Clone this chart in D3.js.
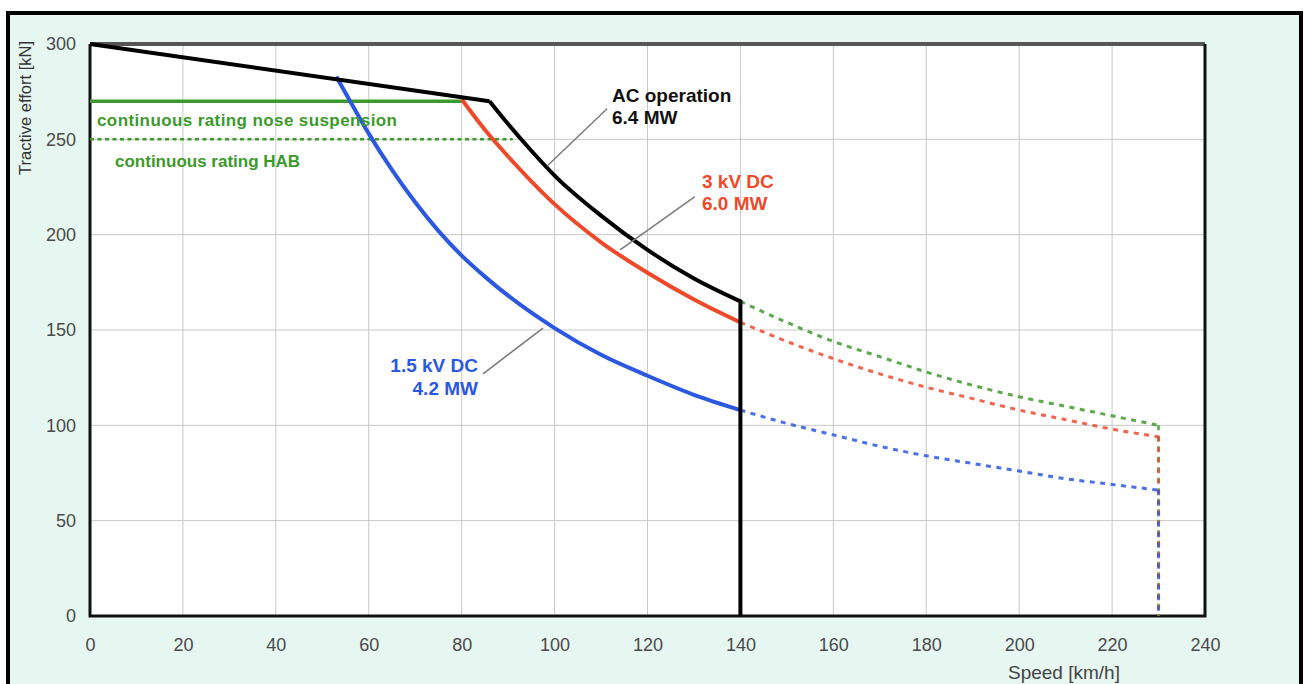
<!DOCTYPE html>
<html>
<head>
<meta charset="utf-8">
<script src="https://cdn.jsdelivr.net/npm/d3@7"></script>
<style>
  body { margin: 0; background: #ffffff; }
  svg { display: block; font-family: "Liberation Sans", Arial, sans-serif; }
</style>
</head>
<body>
<svg width="1305" height="684"></svg>
<script>
// axis ticks
const speedTicks = [0, 20, 40, 60, 80, 100, 120, 140, 160, 180, 200, 220, 240];
const effortTicks = [0, 50, 100, 150, 200, 250, 300];

// AC operation 6.4 MW (black)
const acStraight = [[0, 300], [86, 270]];
const acCurve = [[86, 270], [90, 258], [95, 244], [100, 231], [110, 210], [120, 192], [130, 177], [140, 165]];
const acDrop = [[140, 165], [140, 0]];
const acExtension = [[140, 165], [150, 154], [160, 144], [170, 136], [180, 128], [190, 121], [200, 115], [210, 110], [220, 105], [230, 100]];

// 3 kV DC 6.0 MW (red)
const dc3Curve = [[80, 271], [85, 255], [90, 241], [95, 228], [100, 216], [110, 196], [120, 180], [130, 166], [140, 154]];
const dc3Extension = [[140, 154], [150, 144], [160, 135], [170, 127], [180, 120], [190, 114], [200, 108], [210, 103], [220, 98], [230, 94]];

// 1.5 kV DC 4.2 MW (blue)
const dc15Curve = [[53, 283], [56, 270], [60, 253], [65, 234], [70, 217], [75, 202], [80, 189], [85, 178], [90, 168], [100, 151], [110, 137], [120, 126], [130, 116], [140, 108]];
const dc15Extension = [[140, 108], [150, 101], [160, 95], [170, 89], [180, 84], [190, 80], [200, 76], [210, 72], [220, 69], [230, 66]];

// continuous ratings (green)
const noseSuspension = [[0, 270], [80, 270]];
const hab = [[0, 250], [91, 250]];

// leader lines for the curve labels, [speed, effort] pairs
const leaders = [
  [[98.4, 236], [111.3, 266]],
  [[114.1, 192], [130.2, 220]],
  [[97.5, 151], [84.6, 127]]
];

const svg = d3.select("svg");

// outer frame with mint background
svg.append("rect")
  .attr("x", 8).attr("y", 13)
  .attr("width", 1293).attr("height", 680)
  .attr("fill", "#e6f6f1")
  .attr("stroke", "#000")
  .attr("stroke-width", 4);

let x = d3.scaleLinear().domain([0, 240]).range([90, 1205]);
let y = d3.scaleLinear().domain([0, 300]).range([616, 44]);

// plot background
svg.append("rect")
  .attr("x", x(0)).attr("y", y(300))
  .attr("width", x(240) - x(0)).attr("height", y(0) - y(300))
  .attr("fill", "#fff");

// grid
let grid = svg.append("g").attr("id", "grid");
grid.selectAll("line.v")
  .data(speedTicks.slice(1, -1))
  .enter().append("line")
  .attr("class", "v")
  .attr("x1", d => x(d)).attr("x2", d => x(d))
  .attr("y1", y(300)).attr("y2", y(0))
  .attr("stroke", "#c8c8c8").attr("stroke-width", 1);
grid.selectAll("line.h")
  .data(effortTicks.slice(1, -1))
  .enter().append("line")
  .attr("class", "h")
  .attr("x1", x(0)).attr("x2", x(240))
  .attr("y1", d => y(d)).attr("y2", d => y(d))
  .attr("stroke", "#c8c8c8").attr("stroke-width", 1);

// axes (labels only, frame drawn separately)
let xAxis = d3.axisBottom(x).tickValues(speedTicks).tickSize(0).tickPadding(0);
let yAxis = d3.axisLeft(y).tickValues(effortTicks).tickSize(0).tickPadding(0);

let xGroup = svg.append("g").attr("id", "x-axis")
  .attr("transform", "translate(0," + 651 + ")")
  .call(xAxis);
xGroup.select(".domain").remove();
xGroup.selectAll("text")
  .attr("dy", 0)
  .attr("y", 0)
  .style("font-size", "18px")
  .style("fill", "#4a4a4a")
  .style("font-family", "Liberation Sans, Arial, sans-serif");

let yGroup = svg.append("g").attr("id", "y-axis")
  .attr("transform", "translate(" + 76 + ",0)")
  .call(yAxis);
yGroup.select(".domain").remove();
yGroup.selectAll("text")
  .attr("x", 0)
  .style("font-size", "18px")
  .style("fill", "#4a4a4a")
  .style("font-family", "Liberation Sans, Arial, sans-serif");

// plot frame
svg.append("line")
  .attr("x1", x(0)).attr("x2", x(240))
  .attr("y1", y(300)).attr("y2", y(300))
  .attr("stroke", "#555").attr("stroke-width", 4);
svg.append("path")
  .attr("d", "M" + x(0) + "," + y(300) + "V" + y(0) + "H" + x(240) + "V" + y(300))
  .attr("fill", "none")
  .attr("stroke", "#111").attr("stroke-width", 3);

let straight = d3.line().x(d => x(d[0])).y(d => y(d[1]));
let smooth = d3.line().x(d => x(d[0])).y(d => y(d[1])).curve(d3.curveMonotoneX);

let plot = svg.append("g").attr("id", "plot");

const green = "#3c9a2c";
const red = "#ee4a2a";
const blue = "#2a58e0";

// dashed extensions
function dashed(data, color) {
  plot.append("path")
    .attr("d", smooth(data))
    .attr("fill", "none")
    .attr("stroke", color)
    .attr("stroke-width", 3)
    .attr("stroke-dasharray", "5,5.5")
    .attr("opacity", 0.85);
  let last = data[data.length - 1];
  plot.append("path")
    .attr("d", straight([last, [last[0], 0]]))
    .attr("fill", "none")
    .attr("stroke", color)
    .attr("stroke-width", 3)
    .attr("stroke-dasharray", "5,5.5")
    .attr("opacity", 0.75);
}
dashed(acExtension, green);
dashed(dc3Extension, red);
dashed(dc15Extension, blue);

// continuous ratings
plot.append("path")
  .attr("d", straight(hab))
  .attr("fill", "none")
  .attr("stroke", green)
  .attr("stroke-width", 2.5)
  .attr("stroke-dasharray", "4,3.5");
plot.append("path")
  .attr("d", straight(noseSuspension))
  .attr("fill", "none")
  .attr("stroke", green)
  .attr("stroke-width", 3.5);

// solid curves
plot.append("path")
  .attr("d", smooth(dc15Curve))
  .attr("fill", "none")
  .attr("stroke", blue)
  .attr("stroke-width", 4);
plot.append("path")
  .attr("d", smooth(dc3Curve))
  .attr("fill", "none")
  .attr("stroke", red)
  .attr("stroke-width", 4);
plot.append("path")
  .attr("d", straight(acStraight) + smooth(acCurve).replace(/^M[^C]*/, "L" + x(86) + "," + y(270)) + "L" + x(acDrop[1][0]) + "," + y(acDrop[1][1]))
  .attr("fill", "none")
  .attr("stroke", "#000")
  .attr("stroke-width", 4)
  .attr("stroke-linejoin", "miter");

// leader lines
plot.selectAll("line.leader")
  .data(leaders)
  .enter().append("line")
  .attr("class", "leader")
  .attr("x1", d => x(d[0][0])).attr("y1", d => y(d[0][1]))
  .attr("x2", d => x(d[1][0])).attr("y2", d => y(d[1][1]))
  .attr("stroke", "#7a7a7a")
  .attr("stroke-width", 1.5);

// labels
function label(txt, px, py, color, anchor) {
  plot.append("text")
    .attr("x", px).attr("y", py)
    .attr("text-anchor", anchor || "start")
    .style("font-size", "19px")
    .style("font-weight", "bold")
    .style("fill", color)
    .text(txt);
}
label("AC operation", 612, 102, "#111");
label("6.4 MW", 612, 124, "#111");
label("3 kV DC", 702, 188, red);
label("6.0 MW", 702, 210, red);
label("1.5 kV DC", 478, 372, blue, "end");
label("4.2 MW", 478, 395, blue, "end");

plot.append("text")
  .attr("x", 97).attr("y", 126)
  .style("font-size", "17px")
  .style("font-weight", "bold")
  .style("letter-spacing", "0.4px")
  .style("fill", green)
  .text("continuous rating nose suspension");
plot.append("text")
  .attr("x", 115).attr("y", 167)
  .style("font-size", "17px")
  .style("font-weight", "bold")
  .style("fill", green)
  .text("continuous rating HAB");

// axis titles
svg.append("text")
  .attr("text-anchor", "end")
  .style("font-size", "16.5px")
  .style("fill", "#333")
  .text("Tractive effort [kN]")
  .attr("transform", "translate(" + 31 + "," + 41 + ") rotate(270)");

svg.append("text")
  .attr("x", 1008).attr("y", 679)
  .style("font-size", "19px")
  .style("fill", "#444")
  .text("Speed [km/h]");
</script>
</body>
</html>
